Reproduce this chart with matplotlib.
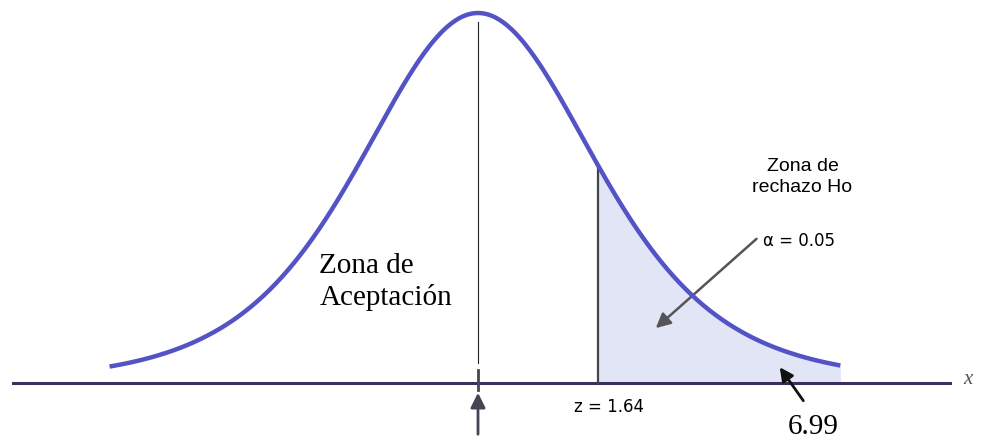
import numpy as np
import matplotlib.pyplot as plt
from math import gamma, sqrt, pi

# datos de la curva (unidades de z en el dibujo)
media = 0.0
df_forma = 5                 # colas algo mas gruesas como en la figura escaneada
x_ini, x_fin = -3.02, 2.97   # extremos de la curva
z_pos = 0.98                 # posicion de la linea critica
z_texto = 'z = 1.64'
alfa_texto = '\u03b1 = 0.05'
valor_texto = '6.99'
zona_acept = 'Zona de\nAceptaci\u00f3n'
zona_rech = 'Zona de\nrechazo Ho'


def campana(x, k=df_forma):
    c = gamma((k + 1) / 2) / (sqrt(k * pi) * gamma(k / 2))
    return c * (1 + (x - media) ** 2 / k) ** (-(k + 1) / 2)


pico = campana(media)
u = pico / 370  # unidades por pixel en vertical

fig = plt.figure(figsize=(9.81, 4.43), dpi=100)
ax = fig.add_axes([0, 0, 1, 1])
ax.set_xlim(-478 / 122, 503 / 122)
ax.set_ylim(-60 * u, pico + 13 * u)
ax.axis('off')

azul = '#5353c6'

# zona de rechazo sombreada
xs = np.linspace(z_pos, x_fin, 200)
ax.fill_between(xs, 0, campana(xs), color='#e1e5f6', lw=0, zorder=1)

# curva
x = np.linspace(x_ini, x_fin, 600)
ax.plot(x, campana(x), color=azul, lw=3.2, solid_capstyle='butt', zorder=4)

# eje x
ax.plot([-3.81, 3.87], [0, 0], color='#3d2f5c', lw=2.2, zorder=3)
ax.text(3.98, 3 * u, 'x', fontsize=15, style='italic', family='Liberation Serif',
        color='#555555', va='center', ha='left')

# linea de la media
ax.plot([media, media], [20 * u, pico - 9 * u], color='#222222', lw=0.8, zorder=2)
ax.plot([media, media], [-7 * u, 13 * u], color='#444455', lw=2, zorder=3)
ax.annotate('', xy=(media, -7 * u), xytext=(media, -54 * u),
            arrowprops=dict(arrowstyle='-|>', color='#444455', lw=2, mutation_scale=22))

# linea critica
ax.plot([z_pos, z_pos], [0, campana(z_pos)], color='#444444', lw=1.6, zorder=3)
ax.text(z_pos - 0.19, -24 * u, z_texto, fontsize=12, family='DejaVu Sans', va='center')

# textos de las zonas
ax.text(-1.30, 101 * u, zona_acept, fontsize=21, family='Liberation Serif',
        va='center', ha='left', linespacing=1.25)
ax.text(2.66, 206 * u, zona_rech, fontsize=14, family='Liberation Sans',
        va='center', ha='center', linespacing=1.25)
ax.text(2.34, 142 * u, alfa_texto, fontsize=12, family='DejaVu Sans',
        va='center', ha='left')

# flecha de alfa
ax.annotate('', xy=(1.44, 53 * u), xytext=(2.30, 146 * u),
            arrowprops=dict(arrowstyle='-|>', color='#555555', lw=1.8, mutation_scale=22))

# flecha del valor 6.99
ax.annotate('', xy=(2.46, 18 * u), xytext=(2.68, -20 * u),
            arrowprops=dict(arrowstyle='-|>', color='#111111', lw=2, mutation_scale=20))
ax.text(2.54, -44 * u, valor_texto, fontsize=21, family='Liberation Serif',
        va='center', ha='left')

fig.savefig('out.png', dpi=100)
